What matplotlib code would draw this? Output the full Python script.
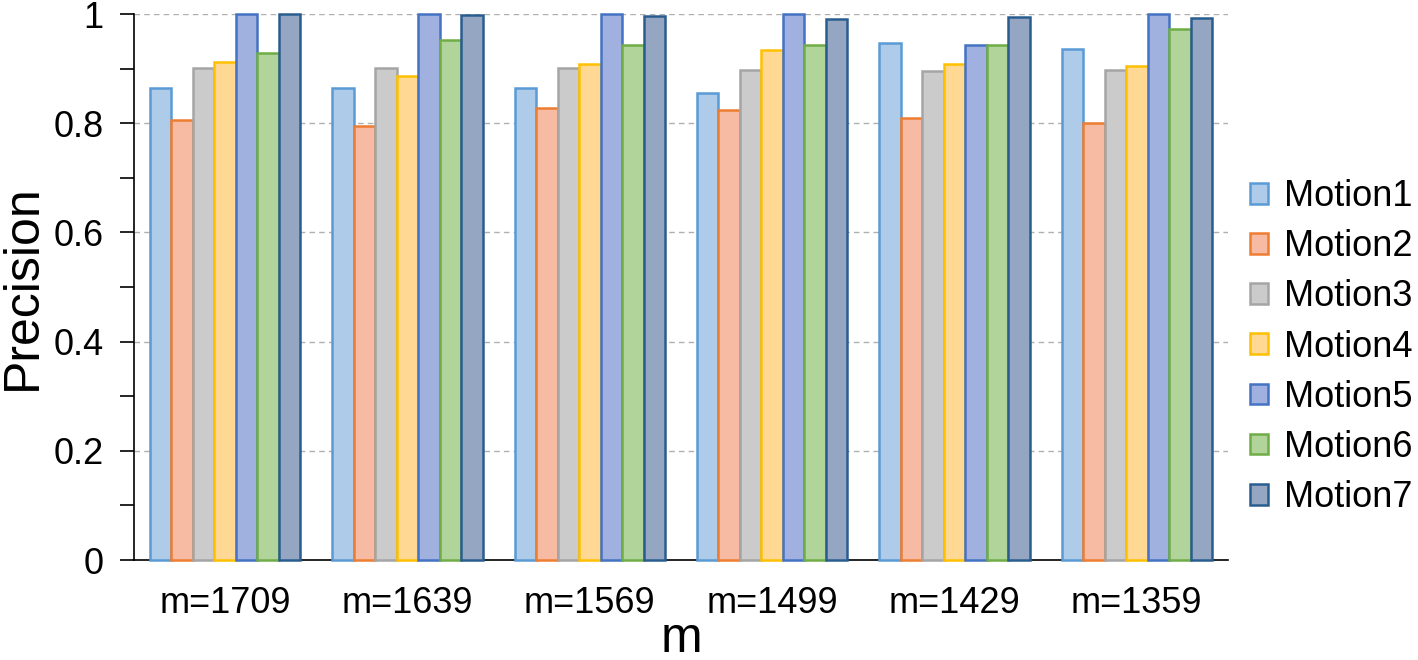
import numpy as np
import matplotlib.pyplot as plt
from matplotlib.ticker import MultipleLocator

plt.rcParams['font.family'] = ['Liberation Sans', 'DejaVu Sans']

groups = ['m=1709', 'm=1639', 'm=1569', 'm=1499', 'm=1429', 'm=1359']
motions = ['Motion1', 'Motion2', 'Motion3', 'Motion4', 'Motion5', 'Motion6', 'Motion7']

motion1 = [0.865, 0.865, 0.865, 0.856, 0.946, 0.936]
motion2 = [0.805, 0.794, 0.827, 0.825, 0.810, 0.801]
motion3 = [0.902, 0.901, 0.901, 0.898, 0.896, 0.898]
motion4 = [0.912, 0.886, 0.909, 0.934, 0.909, 0.904]
motion5 = [1.0, 1.0, 1.0, 1.0, 0.944, 1.0]
motion6 = [0.928, 0.953, 0.943, 0.944, 0.944, 0.972]
motion7 = [1.0, 0.998, 0.997, 0.990, 0.995, 0.993]
series = [motion1, motion2, motion3, motion4, motion5, motion6, motion7]

fills = ['#aecbea', '#f6bba2', '#cbcbcb', '#ffd994', '#a0b1df', '#b0d49a', '#94a6c2']
edges = ['#5b9bd5', '#ed7d31', '#a5a5a5', '#ffc000', '#4472c4', '#70ad47', '#2a5d8f']

fig = plt.figure(figsize=(14.18, 6.6), dpi=100)
ax = fig.add_axes([134/1418, 1 - 560/660, (1228-134)/1418, (560-14)/660])

x = np.arange(len(groups))
w = 0.118
for i, (vals, name) in enumerate(zip(series, motions)):
    ax.bar(x + (i - 3) * w, vals, w, color=fills[i], edgecolor=edges[i],
           linewidth=1.8, label=name, zorder=3, clip_on=False)

ax.set_xlim(-0.5, len(groups) - 0.5)
ax.set_ylim(0, 1)
ax.set_xticks(x)
ax.set_xticklabels(groups, fontsize=26)
ax.tick_params(axis='x', length=0, pad=19)
ax.yaxis.set_minor_locator(MultipleLocator(0.1))
ax.set_yticks([0, 0.2, 0.4, 0.6, 0.8, 1.0])
ax.set_yticklabels(['0', '0.2', '0.4', '0.6', '0.8', '1'], fontsize=26)
ax.tick_params(axis='y', which='both', direction='out', length=10, width=1.2, pad=12)
ax.grid(axis='y', which='major', linestyle=(0, (4, 3)), color='#b0b0b0', linewidth=1, zorder=0)
for s in ['top', 'right']:
    ax.spines[s].set_visible(False)
ax.spines['left'].set_linewidth(1.2)
ax.spines['bottom'].set_linewidth(1.2)

ax.set_ylabel('Precision', fontsize=36, labelpad=5)
ax.set_xlabel('m', fontsize=36, labelpad=-4)

ax.legend(loc='center left', bbox_to_anchor=(1.02, 0.39), frameon=False, fontsize=26,
          borderpad=0, borderaxespad=0,
          handlelength=0.5, handleheight=0.5, handletextpad=0.45, labelspacing=0.42)

fig.savefig('out.png', dpi=100)
